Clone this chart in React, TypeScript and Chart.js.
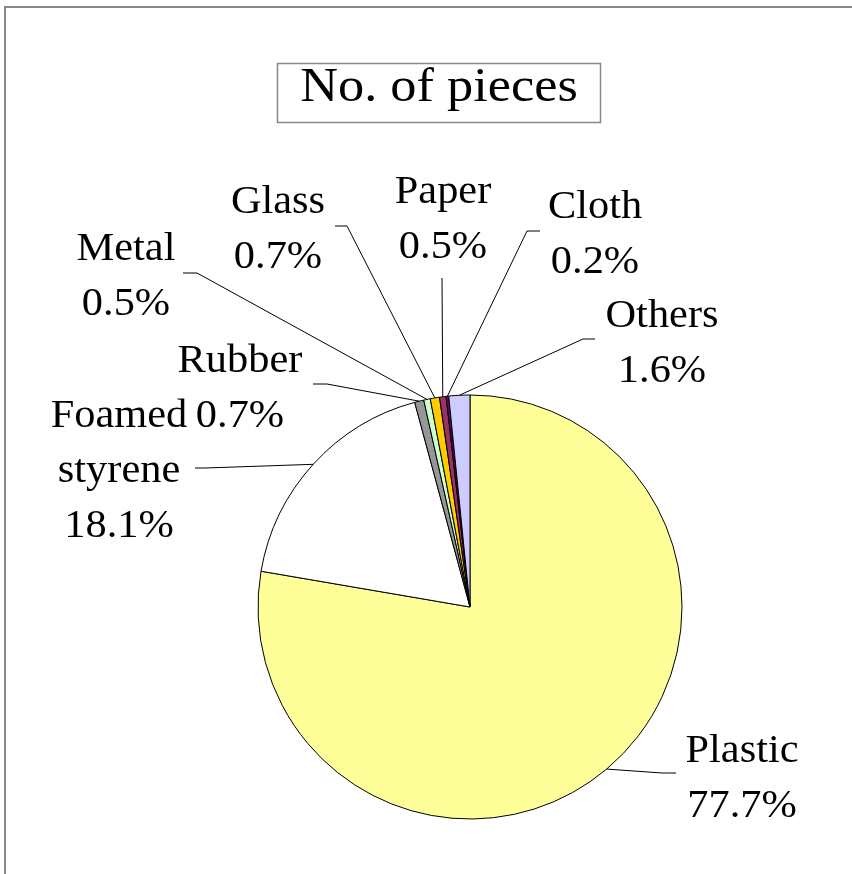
import React, { useEffect, useRef } from 'react';
import { Chart, registerables } from 'chart.js';

Chart.register(...registerables);

// ---- data ----
const categories: string[] = ['Plastic', 'Foamed styrene', 'Rubber', 'Metal', 'Glass', 'Paper', 'Cloth', 'Others'];
const percentages: number[] = [77.7, 18.1, 0.7, 0.5, 0.7, 0.5, 0.2, 1.6];
const titleText = 'No. of pieces';

// ---- styles ----
const sliceColors: string[] = ['#FFFF99', '#FFFFFF', '#969696', '#CCFFCC', '#FFCC00', '#993366', '#660066', '#CCCCFF'];

// ---- label layout (pixel offsets from pie centre) ----
const labelOffsets: number[][] = [
  [272, 155], [-351, -180], [-230, -235], [-344, -347], [-192, -394], [-27, -404], [125, -389], [192, -280],
];
const leaderElbows: number[][] = [
  [192, 166], [-265, -139], [-143, -223], [-273, -334], [-123, -381], [-28, -329], [57, -376], [113, -268],
];
const leaderStubEnds: number[][] = [
  [206, 166], [-275, -139], [-157, -223], [-287, -334], [-135, -381], [-28, -329], [70, -376], [125, -268],
];

const FONT = '"Liberation Serif", "Times New Roman", serif';

function drawStretched(ctx: CanvasRenderingContext2D, text: string, x: number, y: number, sx: number) {
  ctx.save();
  ctx.translate(x, y);
  ctx.scale(sx, 1);
  ctx.fillText(text, 0, 0);
  ctx.restore();
}

const decorPlugin = {
  id: 'decor',
  beforeDraw(chart: any) {
    const ctx: CanvasRenderingContext2D = chart.ctx;
    ctx.save();
    ctx.fillStyle = '#FFFFFF';
    ctx.fillRect(0, 0, chart.width, chart.height);
    // outer frame
    ctx.strokeStyle = '#888888';
    ctx.lineWidth = 2;
    ctx.beginPath();
    ctx.moveTo(5, chart.height + 10);
    ctx.lineTo(5, 7);
    ctx.lineTo(chart.width + 10, 7);
    ctx.stroke();
    // title box
    ctx.strokeStyle = '#888888';
    ctx.lineWidth = 1.5;
    ctx.strokeRect(277.5, 63.5, 323, 59);
    ctx.fillStyle = '#000000';
    ctx.font = `48px ${FONT}`;
    ctx.textAlign = 'center';
    ctx.textBaseline = 'alphabetic';
    drawStretched(ctx, titleText, 439, 101, 1.09);
    ctx.restore();
  },
  afterDraw(chart: any) {
    const ctx: CanvasRenderingContext2D = chart.ctx;
    const meta = chart.getDatasetMeta(0);
    if (!meta.data.length) return;
    const cx = meta.data[0].x;
    const cy = meta.data[0].y;
    ctx.save();
    meta.data.forEach((arc: any, i: number) => {
      const p = arc.getProps(['startAngle', 'endAngle', 'outerRadius'], true);
      const mid = (p.startAngle + p.endAngle) / 2;
      const ax = cx + Math.cos(mid) * p.outerRadius;
      const ay = cy + Math.sin(mid) * p.outerRadius;
      const e = leaderElbows[i];
      const s = leaderStubEnds[i];
      ctx.strokeStyle = '#000000';
      ctx.lineWidth = 1;
      ctx.beginPath();
      ctx.moveTo(ax, ay);
      ctx.lineTo(cx + e[0], cy + e[1]);
      ctx.lineTo(cx + s[0], cy + s[1]);
      ctx.stroke();

      const lines = [...categories[i].split(' '), `${percentages[i].toFixed(1)}%`];
      const o = labelOffsets[i];
      ctx.fillStyle = '#000000';
      ctx.font = `40px ${FONT}`;
      ctx.textAlign = 'center';
      ctx.textBaseline = 'alphabetic';
      lines.forEach((ln, k) => {
        drawStretched(ctx, ln, cx + o[0], cy + o[1] + k * 55, 1.06);
      });
    });
    ctx.restore();
  },
};

export default function App() {
  const canvasRef = useRef<HTMLCanvasElement | null>(null);

  useEffect(() => {
    const canvas = canvasRef.current;
    if (!canvas) return;
    const chart = new Chart(canvas, {
      type: 'pie',
      data: {
        labels: categories,
        datasets: [
          {
            data: percentages,
            backgroundColor: sliceColors,
            borderColor: '#000000',
            borderWidth: 1,
            hoverOffset: 0,
          },
        ],
      },
      options: {
        responsive: false,
        animation: false,
        devicePixelRatio: 1,
        radius: 212,
        layout: { padding: { left: 258, right: 170, top: 395, bottom: 55 } },
        plugins: {
          legend: { display: false },
          tooltip: { enabled: false },
          title: { display: false },
        },
        events: [],
      } as any,
      plugins: [decorPlugin],
    });
    return () => chart.destroy();
  }, []);

  return (
    <div style={{ position: 'fixed', left: 0, top: 0, width: 852, height: 874, overflow: 'hidden', background: '#fff' }}>
      <canvas ref={canvasRef} width={852} height={874} style={{ width: 852, height: 874, display: 'block' }} />
    </div>
  );
}
